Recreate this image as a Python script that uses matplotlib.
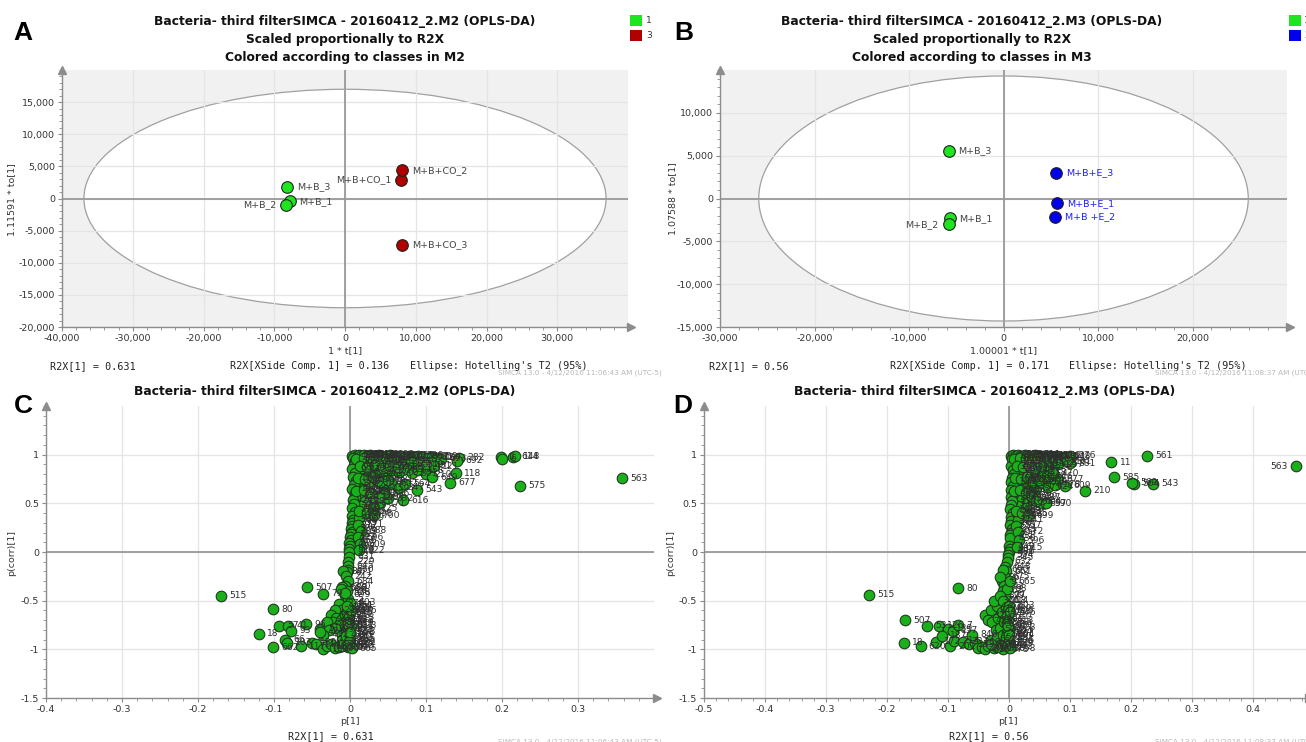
import matplotlib
matplotlib.use('Agg')
import matplotlib.pyplot as plt
from matplotlib.patches import Ellipse, Rectangle
from matplotlib.ticker import FuncFormatter, AutoMinorLocator

W, H = 1306, 742

# ---- panel A: score plot M2 ----
a_t = [-7820, -8360, -8180, 7940, 8060, 8060]
a_to = [-410, -1030, 1800, 2890, 4380, -7220]
a_names = ['M+B_1', 'M+B_2', 'M+B_3', 'M+B+CO_1', 'M+B+CO_2', 'M+B+CO_3']
a_class = [1, 1, 1, 3, 3, 3]
a_left = ['M+B_2', 'M+B+CO_1']

# ---- panel B: score plot M3 ----
b_t = [-5680, -5820, -5820, 5680, 5500, 5550]
b_to = [-2320, -3010, 5560, -580, -2120, 2970]
b_names = ['M+B_1', 'M+B_2', 'M+B_3', 'M+B+E_1', 'M+B +E_2', 'M+B+E_3']
b_class = [1, 1, 1, 2, 2, 2]
b_left = ['M+B_2']

# ---- panel C: S-plot M2 ----
c_p1 = [0.003, 0.006, 0.009, 0.012, 0.015, 0.018, 0.022, 0.026, 0.030, 0.034, 0.038, 0.042, 0.047,
        0.052, 0.057, 0.062, 0.067, 0.072, 0.078, 0.084, 0.090, 0.096, 0.102, 0.108, 0.114, 0.120,
        0.143, 0.141, 0.199, 0.200, 0.215, 0.217, 0.139, 0.132, 0.224, 0.358,
        0.010, 0.020, 0.030, 0.040, 0.050, 0.060, 0.070, 0.080, 0.090, 0.100, 0.110,
        0.015, 0.025, 0.035, 0.045, 0.055, 0.065, 0.075, 0.082, 0.090, 0.100, 0.108,
        0.015, 0.025, 0.035, 0.045, 0.055, 0.065, 0.072, 0.088,
        0.012, 0.020, 0.030, 0.040, 0.050, 0.070, 0.015, 0.030, 0.022, 0.045,
        0.004, 0.007, 0.005, 0.003, 0.006, 0.004, 0.008, 0.005, 0.003, 0.006, 0.007, 0.004, 0.005,
        0.003, 0.006, 0.002, 0.004, 0.003, 0.002, 0.001, 0.003, 0.001, 0.000, 0.001, -0.001, 0.000,
        -0.001, -0.001,
        0.012, 0.010, 0.014, 0.011, 0.013, 0.012,
        -0.001, -0.002, -0.003, -0.002, -0.004, -0.009, -0.005, -0.003, -0.006, -0.011, -0.004,
        -0.007, -0.002,
        -0.057, -0.036, -0.170, -0.101, -0.120, -0.093, -0.082, -0.058, -0.039, -0.078, -0.086,
        -0.083, -0.101, -0.065, -0.050, -0.045,
        -0.035, -0.030, -0.025, -0.020, -0.015, -0.010, -0.005, 0.000, -0.003, -0.008, -0.015,
        -0.012, -0.020, -0.025, -0.018, -0.022, -0.012, -0.015, -0.020, -0.030, -0.028, -0.035,
        -0.040, -0.010, -0.005, -0.003, -0.006, -0.010, -0.003, -0.001, -0.008, -0.004, -0.002,
        -0.012, -0.006, -0.002,
        0.008, 0.018, 0.028, 0.038, 0.048, 0.058, 0.013, 0.023, 0.033, 0.043, 0.053, 0.063,
        0.010, 0.020, 0.030, 0.040, 0.050, 0.008, 0.018, 0.028, 0.038, 0.012, 0.022, 0.032,
        0.000, -0.002, -0.004, -0.001, -0.003, 0.001, -0.002, -0.005, 0.000, -0.001, -0.003,
        0.001, -0.002, -0.004, 0.000, 0.002]
c_pcorr = [0.99, 1.00, 0.99, 1.00, 0.99, 1.00, 0.99, 1.00, 0.99, 0.99, 1.00, 0.99, 0.99,
           1.00, 0.98, 0.99, 0.99, 0.98, 0.99, 0.98, 0.99, 0.98, 0.97, 0.98, 0.97, 0.96,
           0.97, 0.94, 0.98, 0.96, 0.98, 0.985, 0.81, 0.71, 0.68, 0.76,
           0.93, 0.95, 0.92, 0.94, 0.91, 0.93, 0.90, 0.92, 0.90, 0.89, 0.88,
           0.85, 0.80, 0.83, 0.78, 0.84, 0.82, 0.85, 0.81, 0.84, 0.80, 0.77,
           0.72, 0.68, 0.74, 0.65, 0.70, 0.66, 0.70, 0.64,
           0.58, 0.52, 0.56, 0.50, 0.55, 0.53, 0.47, 0.45, 0.62, 0.60,
           0.97, 0.93, 0.89, 0.85, 0.81, 0.77, 0.73, 0.69, 0.65, 0.61, 0.57, 0.53, 0.49,
           0.45, 0.41, 0.37, 0.33, 0.30, 0.27, 0.24, 0.21, 0.18, 0.15, 0.12, 0.09, 0.06,
           0.03, 0.00,
           0.35, 0.28, 0.22, 0.15, 0.08, 0.02,
           -0.05, -0.10, -0.14, -0.18, -0.21, -0.20, -0.25, -0.30, -0.35, -0.36, -0.40,
           -0.44, -0.48,
           -0.36, -0.43, -0.45, -0.59, -0.84, -0.76, -0.76, -0.74, -0.79, -0.81, -0.90,
           -0.93, -0.98, -0.97, -0.93, -0.95,
           -1.00, -0.97, -0.95, -0.99, -0.98, -0.97, -0.95, -0.93, -0.55, -0.57, -0.53,
           -0.60, -0.60, -0.65, -0.68, -0.72, -0.70, -0.75, -0.78, -0.72, -0.80, -0.85,
           -0.82, -0.85, -0.80, -0.70, -0.65, -0.90, -0.88, -0.75, -0.93, -0.62, -0.83,
           -0.38, -0.42, -0.98,
           0.96, 0.97, 0.96, 0.95, 0.97, 0.96, 0.88, 0.87, 0.89, 0.86, 0.88, 0.87,
           0.76, 0.75, 0.77, 0.72, 0.74, 0.63, 0.64, 0.61, 0.57, 0.42, 0.40, 0.38,
           -0.52, -0.58, -0.63, -0.67, -0.72, -0.76, -0.81, -0.86, -0.89, -0.92, -0.96,
           -0.60, -0.74, -0.55, -0.82, -0.99]
c_ids = [402, 355, 17, 288, 641, 90, 233, 512, 377, 160, 48, 305, 421,
         199, 580, 266, 333, 71, 455, 128, 390, 607, 501, 250, 187, 693,
         282, 692, 1, 6, 614, 148, 118, 677, 575, 563,
         56, 312, 474, 203, 88, 617, 365, 29, 540, 451, 121,
         142, 267, 381, 94, 520, 633, 12, 301, 458, 210, 649,
         73, 236, 415, 159, 602, 347, 564, 543,
         38, 285, 490, 171, 332, 616, 657, 125, 219, 586,
         2, 31, 64, 99, 115, 137, 152, 176, 190, 208, 221, 245, 259,
         274, 293, 318, 340, 359, 372, 386, 409, 433, 447, 466, 482, 497,
         529, 548,
         559, 571, 588, 596, 609, 622,
         631, 229, 645, 660, 671, 84, 242, 684, 320, 689, 26,
         699, 5,
         507, 79, 515, 80, 18, 57, 41, 96, 510, 93, 66,
         103, 662, 117, 130, 144,
         153, 168, 182, 196, 207, 216, 227, 239, 251, 263, 276,
         289, 298, 310, 323, 336, 349, 361, 374, 388, 399, 412,
         427, 439, 452, 463, 478, 491, 503, 517, 532, 545, 558,
         566, 578, 590,
         601, 604, 611, 618, 625, 629, 634, 638, 643, 647, 652, 656,
         663, 667, 672, 676, 681, 685, 688, 691, 694, 696, 698, 700,
         603, 606, 610, 613, 619, 623, 627, 630, 635, 639, 642,
         646, 651, 654, 658, 665]
c_left = []

# ---- panel D: S-plot M3 ----
d_p1 = [0.003, 0.006, 0.010, 0.014, 0.018, 0.022, 0.026, 0.030, 0.034, 0.038, 0.042, 0.046, 0.050,
        0.055, 0.060, 0.066, 0.072, 0.078, 0.085, 0.092, 0.100,
        0.100, 0.226, 0.168, 0.172, 0.236, 0.205, 0.202, 0.124, 0.092, 0.080, 0.470, 0.095,
        0.010, 0.020, 0.030, 0.040, 0.050, 0.060, 0.070, 0.080,
        0.012, 0.022, 0.032, 0.042, 0.052, 0.062, 0.072,
        0.014, 0.024, 0.034, 0.044, 0.054, 0.064, 0.075,
        0.012, 0.022, 0.032, 0.042, 0.052, 0.060, 0.015, 0.028,
        0.005, 0.008, 0.004, 0.006, 0.009, 0.005, 0.003, 0.007, 0.004, 0.006, 0.003, 0.005, 0.004,
        0.002, 0.006, 0.003, 0.004, 0.002, 0.005, 0.003, 0.001, 0.002, 0.000, 0.001, 0.000, -0.001,
        0.013, 0.015, 0.012, 0.014, 0.016, 0.013,
        -0.002, -0.004, -0.006, -0.005, -0.008, -0.010, -0.012, -0.015, -0.008, -0.010, -0.006,
        -0.003, -0.012,
        -0.229, -0.084, -0.170, -0.172, -0.145, -0.135, -0.115, -0.100, -0.092, -0.084, -0.120,
        -0.110, -0.097, -0.090, -0.075, -0.065, -0.055, -0.050, -0.045, -0.040, -0.060,
        -0.040, -0.030, -0.020, -0.025, -0.015, -0.010, -0.035, -0.028, -0.018, -0.012, -0.005,
        -0.022, -0.015, -0.008, -0.030, -0.020, -0.010, -0.004, -0.035, -0.025, -0.015, -0.006,
        -0.002, -0.010, -0.020, -0.030,
        0.008, 0.018, 0.028, 0.038, 0.048, 0.058, 0.013, 0.023, 0.033, 0.043, 0.053,
        0.010, 0.020, 0.030, 0.040, 0.050, 0.008, 0.018, 0.028, 0.038, 0.012, 0.022, 0.032, 0.045,
        0.000, -0.002, -0.004, -0.001, -0.003, 0.001, -0.002, -0.005, 0.000, -0.001, -0.003,
        0.001, -0.002, 0.000, 0.002, 0.001]
d_pcorr = [0.99, 1.00, 0.99, 1.00, 0.99, 0.99, 1.00, 0.99, 0.98, 0.99, 1.00, 0.99, 0.98,
           0.99, 0.98, 0.99, 0.98, 0.99, 0.97, 0.98, 0.99,
           0.91, 0.99, 0.92, 0.77, 0.70, 0.70, 0.71, 0.63, 0.68, 0.75, 0.88, 0.93,
           0.93, 0.90, 0.94, 0.91, 0.93, 0.89, 0.92, 0.90,
           0.84, 0.80, 0.83, 0.79, 0.82, 0.78, 0.81,
           0.72, 0.68, 0.74, 0.66, 0.71, 0.67, 0.69,
           0.58, 0.55, 0.52, 0.56, 0.50, 0.50, 0.47, 0.45,
           0.96, 0.92, 0.88, 0.84, 0.80, 0.76, 0.72, 0.68, 0.64, 0.60, 0.56, 0.52, 0.48,
           0.44, 0.40, 0.36, 0.32, 0.28, 0.24, 0.20, 0.17, 0.14, 0.06, 0.03, 0.00, -0.03,
           0.40, 0.33, 0.27, 0.21, 0.12, 0.05,
           -0.06, -0.10, -0.15, -0.20, -0.25, -0.18, -0.30, -0.26, -0.35, -0.40, -0.45,
           -0.38, -0.50,
           -0.44, -0.37, -0.70, -0.93, -0.97, -0.76, -0.76, -0.79, -0.81, -0.75, -0.92,
           -0.86, -0.97, -0.91, -0.92, -0.95, -0.93, -0.99, -0.98, -1.00, -0.85,
           -0.65, -0.60, -0.55, -0.50, -0.45, -0.50, -0.70, -0.72, -0.68, -0.62, -0.58,
           -0.80, -0.78, -0.72, -0.90, -0.88, -0.85, -0.82, -0.97, -0.99, -0.96, -0.94,
           -0.90, -1.00, -0.98, -0.95,
           0.96, 0.97, 0.96, 0.95, 0.97, 0.96, 0.88, 0.87, 0.89, 0.86, 0.88,
           0.76, 0.75, 0.77, 0.72, 0.74, 0.63, 0.64, 0.61, 0.57, 0.42, 0.40, 0.38, 0.52,
           -0.55, -0.60, -0.66, -0.70, -0.74, -0.78, -0.83, -0.87, -0.91, -0.94, -0.97,
           -0.62, -0.76, -0.85, -0.99, -0.30]
d_ids = [14, 47, 83, 112, 141, 170, 198, 226, 254, 283, 311, 339, 367,
         395, 423, 451, 479, 492, 521, 548, 276,
         881, 561, 11, 585, 543, 564, 569, 210, 609, 677, 563, 101,
         22, 58, 95, 133, 162, 191, 223, 257,
         290, 318, 352, 384, 418, 446, 470,
         498, 526, 553, 575, 598, 624, 578,
         640, 655, 668, 687, 697, 590, 30, 67,
         3, 19, 35, 52, 77, 105, 124, 147, 166, 185, 204, 231, 249,
         268, 286, 303, 327, 350, 371, 393, 411, 430, 449, 467, 486, 504,
         523, 541, 557, 572, 596, 615,
         345, 632, 648, 661, 675, 690, 9, 26, 43, 61, 79,
         98, 118,
         515, 80, 507, 18, 620, 53, 126, 139, 157, 7, 172,
         187, 201, 214, 237, 253, 269, 281, 296, 313, 846,
         329, 344, 362, 376, 397, 414, 429, 443, 461, 475, 489,
         502, 519, 533, 551, 565, 580, 594, 607, 621, 636, 650,
         664, 678, 692, 700,
         602, 605, 612, 617, 626, 628, 633, 637, 644, 649, 653,
         657, 662, 666, 671, 674, 680, 683, 686, 689, 693, 695, 699, 604,
         603, 606, 610, 613, 619, 623, 627, 630, 635, 639, 642,
         646, 651, 654, 658, 665]
d_left = [563]

class_colors = {1: '#1ee61e', 2: '#0000ee', 3: '#b00000'}
label_colors = {1: '#444444', 2: '#2020ff', 3: '#444444'}
gray = '#8c8c8c'

plt.rcParams['font.family'] = ['DejaVu Sans']
fig = plt.figure(figsize=(W / 100, H / 100), dpi=100)


def px_axes(l, t, r, b):
    return fig.add_axes([l / W, 1 - b / H, (r - l) / W, (b - t) / H])


def fx(x):
    return x / W


def fy(y):
    return 1 - y / H


def style_axes(ax, fmt, bg):
    ax.set_facecolor(bg)
    for s in ['top', 'right']:
        ax.spines[s].set_visible(False)
    for s in ['left', 'bottom']:
        ax.spines[s].set_color(gray)
        ax.spines[s].set_linewidth(1.0)
    ax.tick_params(which='major', length=3, width=0.8, color=gray, labelsize=6.8,
                   labelcolor='#333333', pad=2)
    ax.tick_params(which='minor', length=2, width=0.6, color=gray)
    ax.xaxis.set_minor_locator(AutoMinorLocator(5))
    ax.yaxis.set_minor_locator(AutoMinorLocator(5))
    ax.xaxis.set_major_formatter(FuncFormatter(fmt))
    ax.yaxis.set_major_formatter(FuncFormatter(fmt))
    ax.grid(True, which='major', color='#e4e4e4', lw=0.9, zorder=0.6)
    ax.set_axisbelow(True)
    ax.axhline(0, color='#999999', lw=1.3, zorder=1)
    ax.axvline(0, color='#999999', lw=1.3, zorder=1)
    ax.plot([1.005], [0], marker='>', ms=6, color=gray, transform=ax.transAxes, clip_on=False)
    ax.plot([0], [1.0], marker='^', ms=6, color=gray, transform=ax.transAxes, clip_on=False)


def thousands(v, _):
    return f'{v:,.0f}'


def short(v, _):
    return f'{v:g}'


def score_panel(ax, t, to, names, classes, left, ell_w, ell_h):
    ax.add_patch(Ellipse((0, 0), ell_w, ell_h, facecolor='white', edgecolor='#a0a0a0',
                         lw=0.9, zorder=0.5))
    for x, y, n, c in zip(t, to, names, classes):
        ax.scatter(x, y, s=70, color=class_colors[c], edgecolor='#202020', linewidth=0.8, zorder=3)
        if n in left:
            ax.annotate(n, (x, y), xytext=(-7, 0), textcoords='offset points', ha='right',
                        va='center', fontsize=6.8, color=label_colors[c], zorder=4)
        else:
            ax.annotate(n, (x, y), xytext=(7, 0), textcoords='offset points', ha='left',
                        va='center', fontsize=6.8, color=label_colors[c], zorder=4)


def s_panel(ax, p1, pcorr, ids, left):
    ax.scatter(p1, pcorr, s=58, color='#1bb01b', edgecolor='#1f3a1f', linewidth=0.8, zorder=3)
    for x, y, i in zip(p1, pcorr, ids):
        if i in left:
            ax.annotate(str(i), (x, y), xytext=(-6, 0), textcoords='offset points', ha='right',
                        va='center', fontsize=6.6, color='#2e2e2e', zorder=4)
        else:
            ax.annotate(str(i), (x, y), xytext=(6, 0), textcoords='offset points', ha='left',
                        va='center', fontsize=6.6, color='#2e2e2e', zorder=4)


# ---------- A ----------
axA = px_axes(62, 70, 628, 327)
style_axes(axA, thousands, '#f1f1f1')
score_panel(axA, a_t, a_to, a_names, a_class, a_left, 73800, 34000)
axA.set_xlim(-40000, 40000)
axA.set_ylim(-20000, 20000)
axA.set_xticks(range(-40000, 30001, 10000))
axA.set_yticks(range(-20000, 15001, 5000))

# ---------- B ----------
axB = px_axes(720, 70, 1287, 327)
style_axes(axB, thousands, '#f1f1f1')
score_panel(axB, b_t, b_to, b_names, b_class, b_left, 51800, 28600)
axB.set_xlim(-30000, 30000)
axB.set_ylim(-15000, 15000)
axB.set_xticks(range(-30000, 20001, 10000))
axB.set_yticks(range(-15000, 10001, 5000))

# ---------- C ----------
axC = px_axes(46, 406, 654, 698)
style_axes(axC, short, 'white')
s_panel(axC, c_p1, c_pcorr, c_ids, c_left)
axC.set_xlim(-0.4, 0.4)
axC.set_ylim(-1.5, 1.5)
axC.set_xticks([-0.4, -0.3, -0.2, -0.1, 0, 0.1, 0.2, 0.3])
axC.set_yticks([-1.5, -1, -0.5, 0, 0.5, 1])

# ---------- D ----------
axD = px_axes(704, 406, 1306, 698)
style_axes(axD, short, 'white')
s_panel(axD, d_p1, d_pcorr, d_ids, d_left)
axD.set_xlim(-0.5, 0.487)
axD.set_ylim(-1.5, 1.5)
axD.set_xticks([-0.5, -0.4, -0.3, -0.2, -0.1, 0, 0.1, 0.2, 0.3, 0.4])
axD.set_yticks([-1.5, -1, -0.5, 0, 0.5, 1])

# ---------- titles, letters, axis labels ----------
tkw = dict(ha='center', va='center', fontsize=8.8, fontweight='bold', color='#111111')
fig.text(fx(345), fy(22), 'Bacteria- third filterSIMCA - 20160412_2.M2 (OPLS-DA)', **tkw)
fig.text(fx(345), fy(39.5), 'Scaled proportionally to R2X', **tkw)
fig.text(fx(345), fy(57), 'Colored according to classes in M2', **tkw)
fig.text(fx(972), fy(22), 'Bacteria- third filterSIMCA - 20160412_2.M3 (OPLS-DA)', **tkw)
fig.text(fx(972), fy(39.5), 'Scaled proportionally to R2X', **tkw)
fig.text(fx(972), fy(57), 'Colored according to classes in M3', **tkw)
fig.text(fx(325), fy(392), 'Bacteria- third filterSIMCA - 20160412_2.M2 (OPLS-DA)', **tkw)
fig.text(fx(985), fy(392), 'Bacteria- third filterSIMCA - 20160412_2.M3 (OPLS-DA)', **tkw)

lkw = dict(ha='left', va='center', fontsize=19, fontweight='bold', family='Liberation Sans')
fig.text(fx(13), fy(33), 'A', **lkw)
fig.text(fx(674), fy(33), 'B', **lkw)
fig.text(fx(14), fy(406), 'C', **lkw)
fig.text(fx(673), fy(406), 'D', **lkw)

akw = dict(fontsize=6.8, color='#333333', ha='center', va='center')
fig.text(fx(12), fy(200), '1.11591 * to[1]', rotation=90, **akw)
fig.text(fx(673), fy(199), '1.07588 * to[1]', rotation=90, **akw)
fig.text(fx(12), fy(553), 'p(corr)[1]', rotation=90, **akw)
fig.text(fx(671), fy(553), 'p(corr)[1]', rotation=90, **akw)
fig.text(fx(345), fy(351), '1 * t[1]', **akw)
fig.text(fx(1004), fy(351), '1.00001 * t[1]', **akw)
fig.text(fx(350), fy(721), 'p[1]', **akw)
fig.text(fx(1008), fy(721), 'p[1]', **akw)

mkw = dict(fontsize=7.3, family='DejaVu Sans Mono', color='#222222', va='center', ha='left')
fig.text(fx(50), fy(366), 'R2X[1] = 0.631', **mkw)
fig.text(fx(230), fy(366), 'R2X[XSide Comp. 1] = 0.136', **mkw)
fig.text(fx(410), fy(366), "Ellipse: Hotelling's T2 (95%)", **mkw)
fig.text(fx(709), fy(366), 'R2X[1] = 0.56', **mkw)
fig.text(fx(890), fy(366), 'R2X[XSide Comp. 1] = 0.171', **mkw)
fig.text(fx(1069), fy(366), "Ellipse: Hotelling's T2 (95%)", **mkw)
mkw['ha'] = 'center'
fig.text(fx(331), fy(736), 'R2X[1] = 0.631', **mkw)
fig.text(fx(989), fy(736), 'R2X[1] = 0.56', **mkw)

wkw = dict(fontsize=5.2, color='#b8b8b8', va='center', ha='left')
fig.text(fx(498), fy(373), 'SIMCA 13.0 - 4/12/2016 11:06:43 AM (UTC-5)', **wkw)
fig.text(fx(1155), fy(373), 'SIMCA 13.0 - 4/12/2016 11:08:37 AM (UTC-5)', **wkw)
fig.text(fx(498), fy(742), 'SIMCA 13.0 - 4/12/2016 11:06:43 AM (UTC-5)', **wkw)
fig.text(fx(1155), fy(742), 'SIMCA 13.0 - 4/12/2016 11:08:37 AM (UTC-5)', **wkw)

# ---------- class legends ----------
legend_a = [(1, '1'), (3, '3')]
legend_b = [(1, '1'), (2, '2')]
for k, (c, txt) in enumerate(legend_a):
    top = 15 + k * 15
    fig.add_artist(Rectangle((fx(630), fy(top + 11)), 12 / W, 11 / H, transform=fig.transFigure,
                             facecolor=class_colors[c], edgecolor='none'))
    fig.text(fx(646), fy(top + 5.5), txt, fontsize=6.5, color='#333333', va='center')
for k, (c, txt) in enumerate(legend_b):
    top = 15 + k * 15
    fig.add_artist(Rectangle((fx(1289), fy(top + 11)), 12 / W, 11 / H, transform=fig.transFigure,
                             facecolor=class_colors[c], edgecolor='none'))
    fig.text(fx(1304), fy(top + 5.5), txt, fontsize=6.5, color='#333333', va='center')

fig.savefig('out.png', dpi=100)
